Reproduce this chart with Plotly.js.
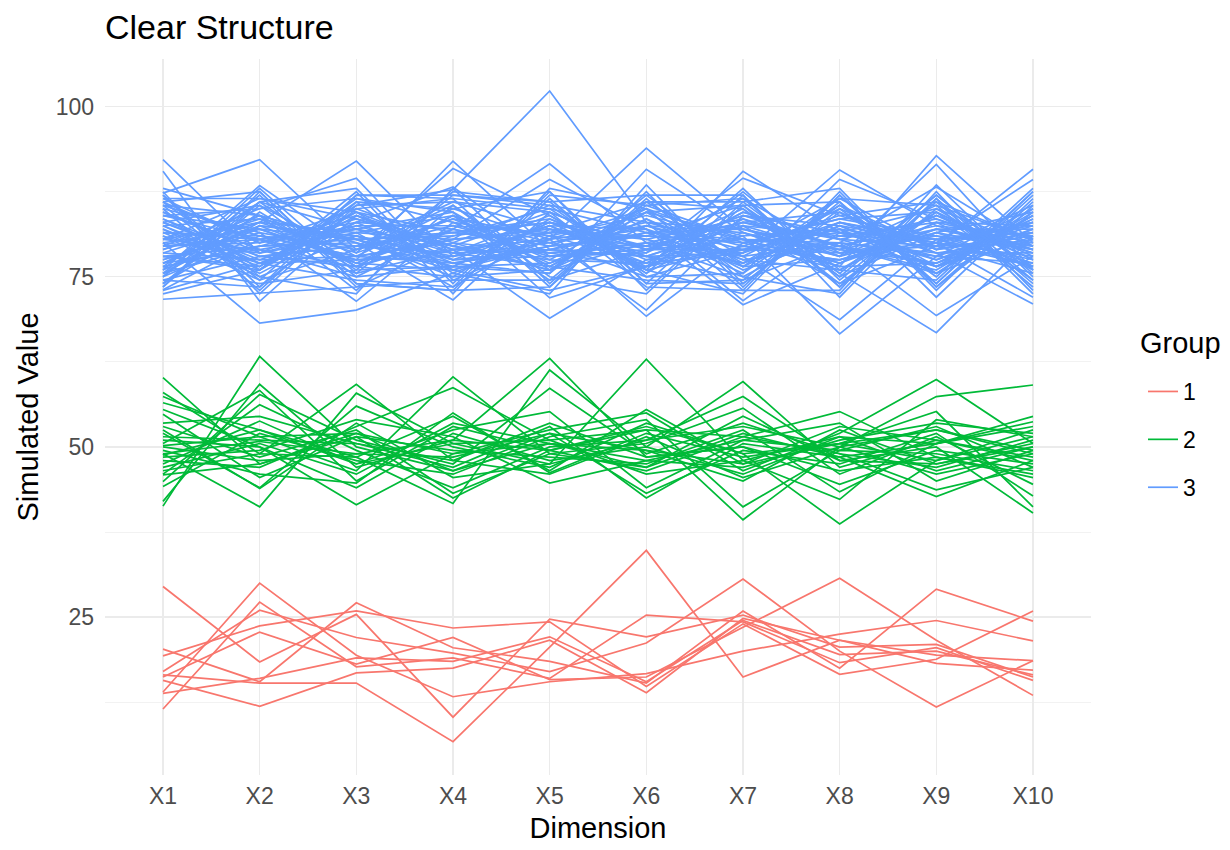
<!DOCTYPE html>
<html>
<head>
<meta charset="utf-8">
<script src="https://cdn.plot.ly/plotly-3.0.1.min.js"></script>
<style>html,body{margin:0;padding:0;background:#fff;}#chart{width:1230px;height:850px;}</style>
</head>
<body>
<div id="chart"></div>
<script>
const dims = ["X1","X2","X3","X4","X5","X6","X7","X8","X9","X10"];
const groupNames = ["1","2","3"];
const groupColors = ["#F8766D","#00BA38","#619CFF"];

const group1Lines = [
  [29.5, 18.4, 25.4, 10.3, 24.7, 22.1, 25.3, 20.6, 21.0, 16.2],
  [11.5, 27.2, 17.7, 19.0, 16.0, 25.3, 24.3, 18.3, 20.5, 15.7],
  [15.7, 11.9, 16.8, 17.5, 21.6, 13.9, 24.8, 21.6, 19.4, 18.6],
  [14.0, 30.0, 19.4, 13.3, 15.5, 16.7, 20.0, 22.5, 24.5, 21.5],
  [16.5, 15.3, 15.3, 6.7, 20.6, 34.8, 16.2, 21.6, 18.2, 17.2],
  [20.3, 15.5, 27.1, 20.5, 18.5, 15.3, 25.9, 17.5, 29.1, 24.4],
  [19.3, 23.7, 25.9, 23.4, 24.3, 14.8, 24.0, 16.6, 18.8, 25.9],
  [17.0, 26.0, 22.0, 19.7, 17.0, 21.2, 30.6, 20.0, 11.8, 18.6],
  [16.2, 22.8, 18.1, 22.0, 15.8, 16.2, 23.5, 30.7, 21.6, 13.5],
  [13.8, 16.0, 19.0, 18.5, 22.1, 15.5, 24.5, 19.5, 20.0, 16.5]
];

const group2Lines = [
  [60.2, 47.5, 52.0, 49.0, 50.5, 48.0, 51.0, 49.5, 53.0, 47.0],
  [41.3, 63.3, 50.0, 46.5, 52.0, 49.5, 47.5, 50.5, 48.0, 51.5],
  [58.0, 49.0, 59.2, 48.0, 46.0, 51.5, 45.5, 50.0, 52.5, 49.0],
  [57.4, 51.5, 46.5, 60.3, 49.0, 47.0, 52.0, 48.5, 50.5, 53.7],
  [42.0, 59.2, 47.0, 51.0, 63.0, 48.5, 50.0, 44.5, 49.5, 47.5],
  [49.0, 41.2, 57.9, 50.5, 47.5, 62.9, 48.0, 51.5, 46.5, 50.0],
  [56.5, 52.5, 48.5, 41.7, 61.3, 50.0, 59.6, 47.0, 51.0, 48.5],
  [50.5, 58.3, 45.0, 53.0, 49.5, 46.5, 51.5, 55.2, 48.5, 46.0],
  [48.0, 47.0, 53.0, 58.7, 51.0, 52.5, 39.3, 50.0, 57.4, 59.1],
  [44.9, 57.7, 51.0, 47.5, 58.6, 49.0, 53.5, 49.0, 47.0, 51.0],
  [55.5, 50.0, 41.5, 49.0, 52.5, 55.0, 46.5, 52.0, 59.9, 50.5],
  [46.0, 56.2, 49.5, 44.0, 50.0, 51.0, 57.4, 48.0, 50.0, 40.3],
  [52.0, 44.0, 56.0, 50.0, 47.0, 53.5, 49.0, 38.7, 48.0, 52.5],
  [47.5, 53.8, 47.5, 52.5, 55.2, 44.0, 51.0, 53.5, 45.0, 49.5],
  [53.0, 48.5, 52.5, 43.2, 49.0, 50.5, 55.7, 46.0, 51.5, 44.5],
  [49.5, 46.0, 44.7, 55.0, 46.2, 52.0, 48.5, 50.5, 55.2, 41.2],
  [51.5, 51.0, 50.5, 47.0, 53.0, 42.5, 50.5, 48.5, 42.7, 48.0],
  [48.5, 49.5, 54.0, 51.5, 44.7, 48.0, 47.0, 51.0, 53.5, 52.0],
  [44.2, 52.0, 48.0, 46.0, 51.5, 54.0, 41.2, 49.5, 49.0, 46.5],
  [54.8, 45.5, 51.5, 49.5, 48.5, 47.5, 52.5, 43.4, 50.5, 53.0],
  [47.0, 50.5, 46.0, 53.5, 50.5, 49.5, 45.0, 52.5, 47.5, 50.0],
  [50.0, 48.0, 49.0, 48.5, 52.0, 43.2, 49.5, 47.5, 52.0, 42.8],
  [52.5, 43.9, 53.5, 45.5, 47.5, 51.0, 53.0, 50.0, 46.0, 49.0],
  [48.8, 52.5, 47.5, 50.5, 51.0, 46.0, 48.0, 42.3, 54.0, 51.5],
  [45.9, 47.5, 51.5, 42.5, 49.5, 52.5, 51.5, 49.0, 43.7, 47.0],
  [51.0, 50.0, 44.0, 52.0, 48.0, 50.0, 46.0, 51.5, 50.5, 54.5],
  [53.5, 54.5, 50.5, 48.0, 53.5, 48.5, 50.0, 46.5, 48.5, 45.5],
  [46.5, 49.0, 48.5, 54.5, 46.5, 55.5, 47.5, 53.0, 51.0, 48.0],
  [50.2, 51.5, 52.0, 46.5, 50.5, 47.0, 54.5, 48.0, 47.5, 50.5],
  [49.0, 50.8, 49.0, 51.0, 49.5, 53.0, 49.0, 50.5, 52.5, 49.5]
];

const group3Lines = [
  [92.2, 78.5, 81.0, 76.5, 83.0, 79.0, 80.5, 77.0, 82.0, 79.5],
  [90.5, 71.4, 84.0, 79.5, 76.0, 82.5, 78.0, 85.0, 79.0, 81.5],
  [71.7, 72.6, 73.5, 80.0, 78.5, 76.5, 83.0, 79.5, 75.5, 84.0],
  [80.0, 68.2, 70.1, 75.5, 81.0, 79.5, 77.0, 82.5, 80.0, 76.5],
  [87.3, 92.2, 79.0, 83.5, 77.5, 85.0, 80.0, 76.0, 84.5, 78.0],
  [78.5, 83.0, 92.0, 78.0, 82.5, 77.0, 84.5, 80.5, 76.5, 82.0],
  [73.1, 80.5, 77.5, 92.0, 79.0, 81.5, 76.5, 83.0, 78.5, 80.5],
  [82.0, 76.5, 85.5, 87.8, 102.3, 83.0, 79.5, 77.5, 81.5, 79.0],
  [79.5, 85.0, 89.5, 74.5, 80.5, 93.9, 82.0, 79.0, 77.0, 83.5],
  [76.0, 88.4, 78.5, 90.9, 84.0, 76.0, 90.5, 81.5, 80.5, 77.5],
  [84.5, 79.0, 75.0, 82.0, 91.6, 80.0, 78.5, 90.7, 82.5, 81.0],
  [77.5, 82.0, 80.5, 77.0, 75.5, 90.8, 81.5, 76.5, 92.8, 80.0],
  [81.5, 75.5, 83.0, 88.2, 78.0, 78.5, 89.5, 84.0, 79.5, 90.8],
  [75.0, 81.0, 78.0, 80.5, 89.3, 82.0, 75.5, 89.3, 83.5, 78.5],
  [83.5, 77.0, 81.5, 73.5, 82.0, 80.5, 83.5, 78.0, 91.5, 76.0],
  [79.0, 84.0, 76.5, 84.0, 80.0, 75.0, 79.0, 82.0, 80.0, 89.3],
  [86.0, 80.0, 82.5, 78.5, 76.5, 84.5, 81.0, 66.6, 78.0, 82.5],
  [74.5, 78.0, 79.5, 81.5, 83.5, 78.0, 74.5, 80.0, 88.2, 79.5],
  [82.5, 83.5, 77.0, 76.0, 79.5, 81.0, 85.5, 75.5, 66.8, 81.0],
  [78.0, 76.0, 84.5, 79.0, 81.5, 69.2, 80.0, 83.5, 81.0, 77.0],
  [85.0, 81.5, 71.4, 83.0, 77.0, 83.5, 77.5, 79.5, 76.0, 84.5],
  [76.5, 79.5, 80.0, 71.6, 84.5, 79.0, 82.5, 81.0, 83.0, 80.0],
  [80.5, 86.5, 83.5, 79.0, 68.9, 77.5, 79.0, 78.5, 79.5, 75.5],
  [83.0, 77.5, 78.0, 85.0, 80.5, 70.1, 84.0, 82.5, 77.5, 83.0],
  [77.0, 82.5, 81.0, 77.5, 82.5, 82.0, 70.9, 77.0, 84.0, 79.0],
  [81.0, 74.5, 79.0, 82.5, 78.5, 80.0, 78.0, 68.7, 80.5, 81.5],
  [86.5, 80.0, 85.0, 80.0, 76.0, 85.5, 80.5, 80.0, 69.3, 78.0],
  [74.0, 84.5, 76.0, 76.5, 83.0, 79.5, 83.0, 84.5, 78.5, 71.0],
  [80.0, 78.5, 82.0, 84.5, 71.9, 76.5, 79.5, 77.5, 82.0, 82.0],
  [84.0, 82.0, 77.5, 78.0, 80.0, 83.0, 71.5, 81.5, 78.0, 77.0],
  [78.0, 79.5, 80.5, 81.0, 85.0, 81.5, 82.0, 79.0, 85.5, 80.5],
  [82.5, 76.0, 84.0, 77.5, 79.0, 78.0, 78.5, 83.0, 80.0, 72.0],
  [75.5, 83.0, 78.5, 83.5, 81.0, 84.0, 80.5, 76.5, 77.0, 83.5],
  [79.5, 80.5, 82.0, 79.5, 77.5, 77.0, 84.5, 80.5, 83.5, 79.0],
  [83.5, 78.0, 76.5, 81.0, 83.0, 80.5, 77.0, 85.5, 79.0, 81.0],
  [77.0, 84.0, 80.0, 76.0, 80.5, 82.5, 81.5, 78.0, 81.5, 76.5],
  [81.0, 77.0, 83.0, 82.0, 78.0, 79.0, 79.0, 82.0, 76.5, 84.0],
  [85.5, 81.0, 79.5, 78.5, 84.0, 75.5, 83.5, 79.5, 82.5, 78.5],
  [76.0, 82.5, 77.0, 84.0, 76.5, 83.5, 76.0, 81.0, 80.5, 82.5],
  [80.5, 79.0, 81.5, 80.5, 82.0, 78.0, 82.5, 74.0, 79.5, 80.0],
  [83.0, 85.5, 78.0, 77.0, 79.5, 81.0, 80.0, 83.5, 84.5, 77.5],
  [78.5, 77.5, 82.5, 82.5, 81.5, 86.0, 78.0, 80.0, 78.0, 85.0],
  [81.5, 80.5, 75.5, 79.0, 78.5, 79.5, 86.5, 78.5, 81.0, 79.5],
  [79.0, 83.5, 80.5, 75.0, 83.5, 77.5, 81.0, 82.0, 75.5, 81.0],
  [84.5, 78.5, 84.5, 81.5, 80.0, 82.0, 77.5, 76.0, 83.0, 76.0],
  [77.5, 81.5, 79.0, 85.5, 76.0, 80.0, 83.0, 80.5, 79.5, 83.0],
  [82.0, 75.0, 81.0, 78.0, 82.5, 76.0, 79.5, 84.0, 86.0, 80.5],
  [80.0, 82.0, 77.0, 82.0, 79.5, 84.5, 76.5, 77.5, 80.0, 78.0],
  [75.5, 79.5, 83.5, 79.5, 84.5, 79.0, 84.0, 81.5, 77.5, 82.0],
  [85.5, 84.0, 80.0, 76.5, 77.0, 81.5, 80.5, 79.0, 82.0, 79.0],
  [78.0, 76.5, 86.5, 83.0, 81.0, 77.0, 78.5, 86.5, 79.0, 85.5],
  [81.5, 81.0, 78.0, 80.0, 85.5, 83.0, 82.0, 78.0, 84.0, 77.5],
  [76.5, 86.0, 82.0, 77.5, 78.0, 80.0, 75.0, 82.5, 76.5, 80.5],
  [83.0, 78.0, 79.5, 86.0, 82.0, 78.5, 85.0, 75.0, 81.5, 84.5],
  [79.5, 80.0, 84.0, 78.5, 79.0, 82.5, 79.0, 80.0, 78.5, 78.5],
  [74.0, 82.5, 80.5, 81.5, 83.0, 76.5, 81.5, 77.0, 83.0, 82.5],
  [82.5, 77.0, 77.5, 79.0, 80.5, 85.0, 77.0, 83.0, 80.5, 76.5],
  [80.5, 83.0, 81.5, 84.0, 74.5, 79.0, 84.0, 79.5, 77.0, 81.5],
  [77.0, 79.0, 76.5, 80.5, 81.5, 81.0, 80.0, 81.5, 85.0, 79.5],
  [84.0, 80.5, 83.0, 77.0, 79.0, 78.0, 82.5, 78.5, 80.0, 83.0],
  [86.0, 87.5, 74.0, 73.0, 86.5, 74.0, 87.0, 73.5, 86.5, 74.5],
  [74.5, 73.5, 87.0, 86.5, 73.5, 87.5, 73.5, 87.0, 74.0, 87.0],
  [87.0, 75.0, 72.5, 88.0, 74.0, 86.5, 75.0, 72.5, 87.5, 73.0],
  [73.5, 86.0, 88.0, 74.0, 87.5, 73.0, 86.0, 88.0, 73.5, 86.0],
  [85.0, 73.0, 86.0, 75.5, 72.5, 88.5, 74.0, 85.0, 75.0, 88.0],
  [75.0, 88.0, 75.5, 87.0, 85.5, 75.5, 88.0, 74.5, 86.0, 74.0],
  [88.0, 84.0, 73.0, 85.5, 75.0, 72.5, 85.5, 86.0, 72.0, 85.5],
  [72.5, 76.0, 87.5, 72.5, 88.0, 85.0, 73.0, 73.0, 88.5, 75.0],
  [86.5, 86.5, 84.5, 76.0, 73.0, 76.5, 87.5, 76.0, 74.5, 87.5],
  [76.5, 74.0, 76.0, 87.5, 86.0, 87.0, 76.5, 86.5, 85.5, 73.5],
  [84.0, 85.0, 86.5, 84.5, 76.5, 74.5, 74.0, 84.5, 76.5, 84.0],
  [73.0, 77.0, 74.5, 73.5, 87.0, 85.5, 86.5, 75.0, 87.0, 76.0],
  [87.5, 72.5, 85.5, 86.0, 84.5, 73.5, 73.0, 87.5, 73.0, 86.5],
  [75.5, 87.0, 73.5, 74.5, 74.5, 86.0, 85.0, 74.0, 84.5, 74.5],
  [85.5, 74.5, 87.0, 87.0, 86.0, 75.0, 75.5, 85.5, 75.5, 85.0],
  [74.0, 85.5, 75.0, 76.5, 75.5, 87.0, 87.0, 72.0, 86.5, 72.5],
  [86.0, 76.0, 86.0, 85.0, 87.5, 74.0, 74.5, 86.0, 74.0, 87.5],
  [73.5, 87.5, 74.0, 73.0, 73.5, 86.0, 86.0, 75.5, 87.0, 75.5],
  [87.0, 73.5, 85.0, 86.5, 85.0, 76.0, 72.5, 87.0, 73.5, 84.5],
  [75.0, 86.0, 76.5, 75.0, 76.0, 84.5, 85.5, 73.5, 85.0, 76.5]
];

const yTickVals = [25, 50, 75, 100];
const yMinorVals = [12.5, 37.5, 62.5, 87.5];
const legendTitle = "Group";
const FONT = "Liberation Sans, Arial, Helvetica, sans-serif";

const allGroups = [group1Lines, group2Lines, group3Lines];
const traces = [];
allGroups.forEach((lines, gi) => {
  lines.forEach((vals, li) => {
    traces.push({
      type: "scatter",
      mode: "lines",
      x: dims,
      y: vals,
      name: groupNames[gi],
      legendgroup: groupNames[gi],
      showlegend: li === 0,
      line: {color: groupColors[gi], width: 1.7},
      hoverinfo: "skip"
    });
  });
});

const layout = {
  width: 1230,
  height: 850,
  margin: {l: 105, r: 139, t: 59, b: 75},
  paper_bgcolor: "#ffffff",
  plot_bgcolor: "#ffffff",
  font: {family: FONT, color: "#4D4D4D", size: 23},
  title: {
    text: "Clear Structure",
    font: {family: FONT, size: 34, color: "#000000"},
    x: 105/1230, xref: "container", xanchor: "left",
    y: 1 - 27/850, yref: "container", yanchor: "middle"
  },
  xaxis: {
    type: "category",
    categoryarray: dims,
    range: [-0.6, 9.6],
    showgrid: true,
    gridcolor: "#EBEBEB",
    gridwidth: 1.3,
    zeroline: false,
    showline: false,
    ticks: "",
    ticklabelstandoff: 5,
    tickfont: {family: FONT, size: 23, color: "#4D4D4D"},
    title: {text: "Dimension", font: {family: FONT, size: 29, color: "#000000"}, standoff: 9}
  },
  yaxis: {
    range: [1.8, 107],
    tickvals: yTickVals,
    ticktext: yTickVals.map(String),
    showgrid: true,
    gridcolor: "#EBEBEB",
    gridwidth: 1.3,
    minor: {tickvals: yMinorVals, showgrid: true, gridcolor: "#EBEBEB", gridwidth: 0.65, ticks: ""},
    zeroline: false,
    showline: false,
    ticks: "",
    ticklabelstandoff: 10,
    tickfont: {family: FONT, size: 23, color: "#4D4D4D"},
    title: {text: "Simulated Value", font: {family: FONT, size: 29, color: "#000000"}, standoff: 8}
  },
  legend: {
    x: (1143 - 105) / 986, xanchor: "left",
    y: 1 - (370 - 59) / 716, yanchor: "top",
    font: {family: FONT, size: 23, color: "#000000"},
    traceorder: "grouped",
    tracegroupgap: 15,
    itemwidth: 30,
    bgcolor: "rgba(0,0,0,0)"
  },
  annotations: [{
    text: legendTitle,
    xref: "paper", yref: "paper",
    x: (1138 - 105) / 986, xanchor: "left",
    y: 1 - (343 - 59) / 716, yanchor: "middle",
    showarrow: false,
    font: {family: FONT, size: 29, color: "#000000"}
  }],
  showlegend: true
};

Plotly.newPlot("chart", traces, layout, {displayModeBar: false, staticPlot: true});
</script>
</body>
</html>
